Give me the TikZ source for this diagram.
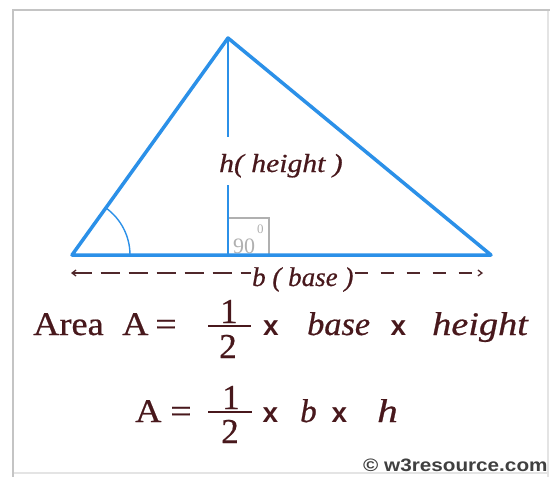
\documentclass[tikz,border=0pt]{standalone}
\usepackage{fontspec}
\setmainfont{Liberation Serif}[FakeBold=0.6]
\setsansfont{Liberation Sans}
\newfontfamily\plainserif{Liberation Serif}
\usepackage{graphicx}
\usetikzlibrary{arrows.meta,calc}
\definecolor{tribl}{RGB}{43,144,232}
\definecolor{txtcol}{RGB}{72,24,28}
\definecolor{sqgray}{RGB}{176,176,176}
\definecolor{framel}{RGB}{196,196,196}
\definecolor{framer}{RGB}{228,228,228}
\newcommand{\fsz}[1]{\fontsize{#1}{#1}\selectfont}
\tikzset{
  side/.style={draw=tribl, line width=3.5pt, line join=round},
  alt/.style={draw=tribl, line width=1.8pt},
  anglearc/.style={draw=tribl, line width=1.4pt},
  sqbox/.style={draw=sqgray, line width=1.3pt},
  txt/.style={inner sep=0pt, text=txtcol, font=\fsz{33}},
  mulx/.style={inner sep=0pt, text=txtcol, font=\fsz{28}\sffamily\bfseries},
  fracbar/.style={draw=txtcol, line width=2.3pt},
  dimline/.style={draw=txtcol!85!gray, line width=1.3pt},
  tipL/.style={{Straight Barb[length=4pt,width=6pt]}-},
  tipR/.style={-{Straight Barb[length=4pt,width=6pt]}},
  framestrong/.style={draw=framel, line width=2.5pt},
  frameweak/.style={draw=framer, line width=1.2pt}
}
\begin{document}
\begin{tikzpicture}[x=1pt,y=-1pt]
\useasboundingbox (0,0) rectangle (550,477);
\fill[white] (0,0) rectangle (550,477);
% frame
\draw[frameweak] (548,10) -- (548,477);
\draw[frameweak] (13,473) -- (548,473);
\draw[framestrong] (13,477) -- (13,10) -- (550,10);

% triangle points
\coordinate (A) at (228,38);
\coordinate (L) at (72,255);
\coordinate (R) at (491,255);
\coordinate (F) at (228,255);
\coordinate (H1) at (228,137);
\coordinate (H2) at (228,185);

% right-angle box
\draw[sqbox] (228,218) rectangle (269,255);
\node[inner sep=0pt, text=sqgray, font=\fsz{22}\plainserif, anchor=base west] (ninety) at (233,253) {90};
\node[inner sep=0pt, text=sqgray, font=\fsz{13}\plainserif, anchor=base west] (deg) at (257,233) {0};

% altitude
\draw[alt] (A) -- (H1);
\draw[alt] (H2) -- (F);
\node[txt, font=\fsz{26}\itshape, anchor=base west] (hlab) at (219,172) {\scalebox{1.14}[1]{h( height )}};

% angle arc
\draw[anglearc] ($(L)+(58,0)$) arc[start angle=0, end angle=-54.3, radius=58];

% triangle
\draw[side] (L) -- (A) -- (R) -- cycle;

% base dimension
\coordinate (BL) at (71,273);
\coordinate (BR) at (483,273);
\node[txt, font=\fsz{27}\itshape, anchor=base west, inner xsep=1pt] (blab) at (251,286) {b ( base )};
\draw[dimline, tipL, dash pattern=on 19pt off 9pt] (BL) -- (blab.west |- BL);
\draw[dimline, tipR, dash pattern=on 13pt off 13pt] (blab.east |- BR) -- (BR);

% formula line 1
\node[txt, anchor=base west] (area) at (33,335) {\scalebox{1.1}[1]{Area}};
\node[txt, anchor=base west] (A1) at (122,335) {\scalebox{1.1}[1]{A}};
\node[txt, anchor=base] (eq1) at (166,335) {\scalebox{1.15}[1]{=}};
\node[txt, font=\fsz{35}, anchor=base] (n1) at (229,323) {1};
\node[txt, font=\fsz{35}, anchor=base] (d1) at (228,358) {2};
\draw[fracbar] (208,326) -- (251,326);
\node[mulx, anchor=base] (x1) at (271,335) {x};
\node[txt, anchor=base west] (base1) at (307,335) {\scalebox{1.04}[1]{\itshape base}};
\node[mulx, anchor=base] (x2) at (398.5,335) {x};
\node[txt, anchor=base west] (height1) at (432,335) {\scalebox{1.16}[1]{\itshape height}};

% formula line 2
\node[txt, anchor=base west] (A2) at (135,422) {\scalebox{1.1}[1]{A}};
\node[txt, anchor=base] (eq2) at (181,422) {\scalebox{1.15}[1]{=}};
\node[txt, font=\fsz{35}, anchor=base] (n2) at (231,409) {1};
\node[txt, font=\fsz{35}, anchor=base] (d2) at (230,443) {2};
\draw[fracbar] (208,412) -- (252,412);
\node[mulx, anchor=base] (x3) at (270.5,422) {x};
\node[txt, anchor=base west] (b2) at (300,422) {\itshape b};
\node[mulx, anchor=base] (x4) at (339.5,422) {x};
\node[txt, anchor=base west] (h2) at (377,422) {\scalebox{1.25}[1]{\itshape h}};

% footer
\node[inner sep=0pt, text=black!75, font=\fsz{18}\sffamily\bfseries, anchor=base west] (copy) at (363,471) {\scalebox{1.15}[1]{\textcopyright\ w3resource.com}};
\end{tikzpicture}
\end{document}
